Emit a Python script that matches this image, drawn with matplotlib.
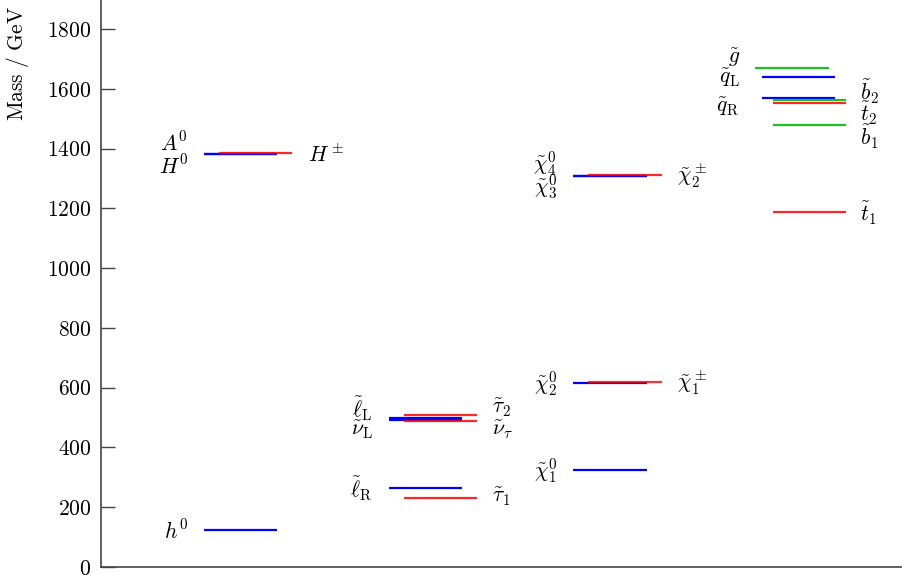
import matplotlib
matplotlib.use("Agg")
import matplotlib.pyplot as plt

plt.rcParams['mathtext.fontset'] = 'cm'
plt.rcParams['font.family'] = 'serif'
plt.rcParams['font.serif'] = ['cmr10', 'DejaVu Serif']
plt.rcParams['axes.formatter.use_mathtext'] = True

# ---- data (GeV) ----
higgs_names = ['h0', 'H0', 'A0', 'Hpm']
higgs_mass = [125, 1383, 1383, 1386]
slepton_names = ['eL', 'nuL', 'eR', 'tau2', 'nutau', 'tau1']
slepton_mass = [498, 493, 264, 507, 489, 232]
gaugino_names = ['N1', 'N2', 'N3', 'N4', 'C1', 'C2']
gaugino_mass = [325, 617, 1307, 1308, 618, 1312]
squark_names = ['gluino', 'qL', 'qR', 'b2', 't2', 'b1', 't1']
squark_mass = [1669, 1640, 1568, 1561, 1553, 1478, 1189]

yticks = [0, 200, 400, 600, 800, 1000, 1200, 1400, 1600, 1800]

masses = {}
for names, vals in [(higgs_names, higgs_mass), (slepton_names, slepton_mass),
                    (gaugino_names, gaugino_mass), (squark_names, squark_mass)]:
    for n, v in zip(names, vals):
        masses[n] = v

BLUE = '#0000ff'
RED = '#ff0000'
GREEN = '#1fbf1f'
FS = 15.5

fig = plt.figure(figsize=(9.02, 5.75), dpi=100)
ax = fig.add_axes([101/902, 8/575, 801/902, 567/575])
ax.set_xlim(0, 801)
ax.set_ylim(0, 1897)

HW = 36.7
def hline(name, xc, color, alpha=1.0):
    ax.plot([xc - HW, xc + HW], [masses[name]] * 2, color=color, lw=1.6,
            alpha=alpha, solid_capstyle='butt')

c1, c2, c3, c4 = 139.5, 324.5, 509.0, 697.3
# Higgs
hline('h0', c1, BLUE)
hline('H0', c1, BLUE)
hline('A0', c1, BLUE)
hline('Hpm', c1 + 15, RED, 0.85)
# sleptons
hline('eL', c2, BLUE)
hline('nuL', c2, BLUE)
hline('eR', c2, BLUE)
hline('tau2', c2 + 15, RED, 0.85)
hline('nutau', c2 + 15, RED, 0.85)
hline('tau1', c2 + 15, RED, 0.85)
# gauginos
hline('N1', c3, BLUE)
hline('N2', c3, BLUE)
hline('N3', c3, BLUE)
hline('N4', c3, BLUE)
hline('C1', c3 + 15, RED, 0.8)
hline('C2', c3 + 15, RED, 0.85)
# squarks
hline('gluino', c4 - 6.3, GREEN)
hline('qL', c4, BLUE)
hline('qR', c4, BLUE)
hline('b2', c4 + 11, GREEN)
hline('t2', c4 + 11, RED, 0.85)
hline('b1', c4 + 11, GREEN)
hline('t1', c4 + 11, RED, 0.85)

def lab(text, x, ypx, ha):
    y = (567 - ypx) * 1897 / 567
    ax.text(x, y, text, ha=ha, va='center', fontsize=FS)

# left labels (right-aligned)
lab(r'$A^0$', 87, 143, 'right')
lab(r'$H^0$', 87, 166, 'right')
lab(r'$h^0$', 87, 531, 'right')
lab(r'$\tilde{\ell}_{\rm L}$', 272, 409, 'right')
lab(r'$\tilde{\nu}_{\rm L}$', 272, 430, 'right')
lab(r'$\tilde{\ell}_{\rm R}$', 272, 489, 'right')
lab(r'$\tilde{\chi}_4^0$', 456, 164, 'right')
lab(r'$\tilde{\chi}_3^0$', 456, 187, 'right')
lab(r'$\tilde{\chi}_2^0$', 456, 384, 'right')
lab(r'$\tilde{\chi}_1^0$', 456, 471, 'right')
lab(r'$\tilde{g}$', 639, 58, 'right')
lab(r'$\tilde{q}_{\rm L}$', 639, 78, 'right')
lab(r'$\tilde{q}_{\rm R}$', 639, 107, 'right')
# right labels (left-aligned)
lab(r'$H^\pm$', 207, 155, 'left')
lab(r'$\tilde{\tau}_2$', 391, 408, 'left')
lab(r'$\tilde{\nu}_\tau$', 391, 430, 'left')
lab(r'$\tilde{\tau}_1$', 391, 497, 'left')
lab(r'$\tilde{\chi}_2^\pm$', 576, 176, 'left')
lab(r'$\tilde{\chi}_1^\pm$', 576, 383, 'left')
lab(r'$\tilde{b}_2$', 759, 92, 'left')
lab(r'$\tilde{t}_2$', 759, 113, 'left')
lab(r'$\tilde{b}_1$', 759, 137, 'left')
lab(r'$\tilde{t}_1$', 759, 213, 'left')

ax.set_yticks(yticks)
ax.set_yticklabels([r'$%d$' % v for v in yticks], fontsize=FS)
ax.set_xticks([])
ax.tick_params(axis='y', direction='in', length=10, width=1.0, color='#444444', pad=7)
for s in ['top', 'right']:
    ax.spines[s].set_visible(False)
for s in ['left', 'bottom']:
    ax.spines[s].set_color('#444444')
    ax.spines[s].set_linewidth(1.2)

ax.set_ylabel(r'$\mathrm{Mass\ /\ GeV}$', fontsize=FS)
ax.yaxis.set_label_coords((31 - 101) / 801, (567 - 64) / 567)

fig.savefig('out.png', dpi=100)
